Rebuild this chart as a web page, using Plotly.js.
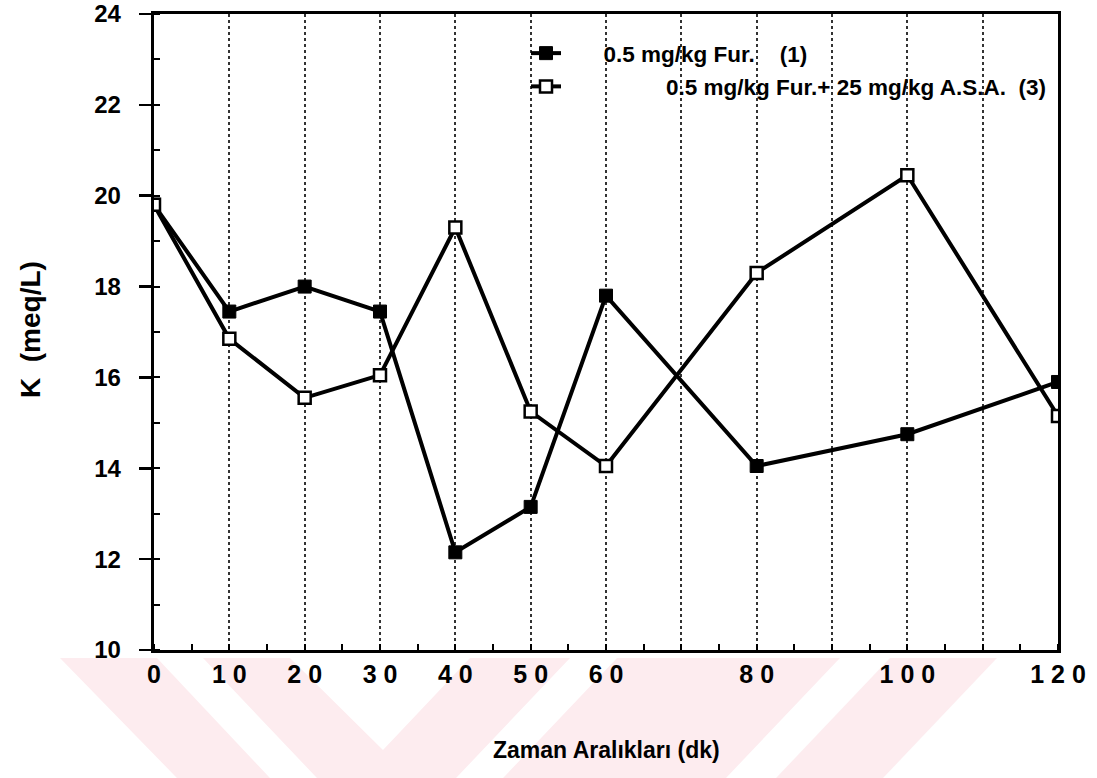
<!DOCTYPE html>
<html>
<head>
<meta charset="utf-8">
<script src="https://cdn.plot.ly/plotly-3.0.1.min.js"></script>
<style>html,body{margin:0;padding:0;background:#fff}</style>
</head>
<body>
<div id="chart" style="width:1097px;height:778px"></div>
<script>
// Sampling times (minutes)
const times = [0, 10, 20, 30, 40, 50, 60, 80, 100, 120];
// Serum K (meq/L), 0.5 mg/kg furosemide group (1)
const furK = [19.8, 17.45, 18.0, 17.45, 12.15, 13.15, 17.8, 14.05, 14.75, 15.9];
// Serum K (meq/L), 0.5 mg/kg furosemide + 25 mg/kg A.S.A. group (3)
const furAsaK = [19.8, 16.85, 15.55, 16.05, 19.3, 15.25, 14.05, 18.3, 20.45, 15.15];

const NB = '\u00a0';
const FIG = '\u2007';
const seriesNames = [
  NB.repeat(6) + '0.5 mg/kg Fur.' + NB.repeat(4) + '(1)',
  NB.repeat(16) + '0.5 mg/kg Fur.+ 25 mg/kg A.S.A.' + NB.repeat(2) + '(3)'
];

const xTickVals = [0, 10, 20, 30, 40, 50, 60, 70, 80, 90, 100, 110, 120];
const xTickText = ['0', '1 0', '2 0', '3 0', '4 0', '5 0', '6 0', '', '8 0', '', '1 0 0', '', '1 2 0'];
const yTickVals = [10, 12, 14, 16, 18, 20, 22, 24];
const yTickText = yTickVals.map(v => String(v) + FIG);
const xTitle = 'Zaman Aralıkları (dk)';
const yTitle = 'K' + NB + NB + '(meq/L)';

const M = {l:154, r:39, t:14, b:128};
const W = 1097, H = 778;
const pw = W - M.l - M.r, ph = H - M.t - M.b;
// page pixel -> paper fraction
const toPaper = p => [(p[0] - M.l) / pw, (H - M.b - p[1]) / ph];

// Light diagonal watermark bands beneath the axis (page pixels)
const bands = [
  [[60,658],[157,658],[270,778],[177,778]],
  [[203,658],[290,658],[383,750],[470,658],[570,658],[456,778],[317,778]],
  [[617,658],[840,658],[726,778],[503,778]],
  [[890,658],[997,658],[883,778],[776,778]]
];
const bandShapes = bands.map(poly => ({
  type: 'path', xref: 'paper', yref: 'paper', layer: 'below',
  path: 'M' + poly.map(p => toPaper(p).map(v => v.toFixed(4)).join(',')).join('L') + 'Z',
  fillcolor: '#fdecef', line: {width: 0}
}));

const FONT = '"Liberation Sans", Arial, Helvetica, sans-serif';

const traces = [
  {
    x: times, y: furK, name: seriesNames[0], legendgroup: 'g1',
    mode: 'lines+markers', type: 'scatter',
    line: {color: 'black', width: 4},
    marker: {symbol: 'square', size: 13, color: 'black', line: {color: 'black', width: 1}}
  },
  {
    x: times, y: furAsaK, name: seriesNames[1], legendgroup: 'g2',
    mode: 'lines+markers', type: 'scatter',
    line: {color: 'black', width: 4},
    marker: {symbol: 'square', size: 12, color: 'white', line: {color: 'black', width: 2.5}}
  }
];

const xTitlePos = toPaper([606, 750]);
const yTitlePos = toPaper([30, 330]);
const legendPos = toPaper([526, 32]);

const layout = {
  width: W, height: H,
  margin: M,
  paper_bgcolor: 'white', plot_bgcolor: 'white',
  font: {family: FONT, color: 'black'},
  showlegend: true,
  legend: {
    x: legendPos[0], y: legendPos[1], xanchor: 'left', yanchor: 'top',
    bgcolor: 'rgba(0,0,0,0)', borderwidth: 0,
    font: {family: FONT, size: 22.5, weight: 'bold', color: 'black'},
    itemwidth: 30, tracegroupgap: 1
  },
  xaxis: {
    range: [0, 120], tickmode: 'array', tickvals: xTickVals, ticktext: xTickText,
    ticks: '', showgrid: true, gridcolor: '#333', gridwidth: 2, griddash: 'dot',
    showline: true, linecolor: 'black', linewidth: 3, mirror: true, zeroline: false,
    tickfont: {family: FONT, size: 25, weight: 'bold'}, ticklabeloverflow: 'allow',
    minor: {dtick: 5, tick0: 0, ticks: 'inside', ticklen: 6, tickwidth: 2, tickcolor: 'black', showgrid: false},
    automargin: false, fixedrange: true
  },
  yaxis: {
    range: [10, 24], tickmode: 'array', tickvals: yTickVals, ticktext: yTickText,
    ticks: 'outside', ticklen: 12, tickwidth: 2.5, tickcolor: 'black',
    showgrid: false, zeroline: false,
    showline: true, linecolor: 'black', linewidth: 3, mirror: true,
    tickfont: {family: FONT, size: 24, weight: 'bold'}, ticklabeloverflow: 'allow',
    minor: {dtick: 1, tick0: 10, ticks: 'inside', ticklen: 6, tickwidth: 2, tickcolor: 'black', showgrid: false},
    automargin: false, fixedrange: true
  },
  annotations: [
    {text: xTitle, xref: 'paper', yref: 'paper', x: xTitlePos[0], y: xTitlePos[1],
     xanchor: 'center', yanchor: 'middle', showarrow: false,
     font: {family: FONT, size: 23, weight: 'bold', color: 'black'}},
    {text: yTitle, xref: 'paper', yref: 'paper', x: yTitlePos[0], y: yTitlePos[1],
     xanchor: 'center', yanchor: 'middle', textangle: -90, showarrow: false,
     font: {family: FONT, size: 28, weight: 'bold', color: 'black'}}
  ],
  shapes: bandShapes
};

Plotly.newPlot('chart', traces, layout, {staticPlot: true, displayModeBar: false});
</script>
</body>
</html>
